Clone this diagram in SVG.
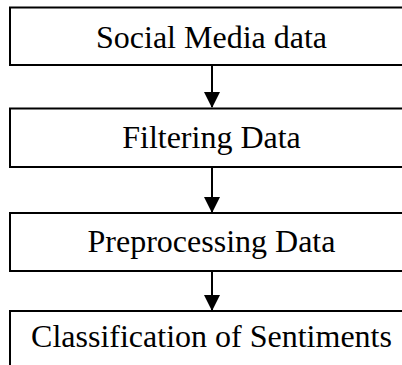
<svg xmlns="http://www.w3.org/2000/svg" width="402" height="365" viewBox="0 0 402 365">
<style>
.box{fill:#fff;stroke:#000;stroke-width:2}
.lbl{font-family:"Liberation Serif","Times New Roman",serif;font-size:32px;fill:#000;text-anchor:middle}
.conn{stroke:#000;stroke-width:2;fill:none}
</style>
<defs>
<marker id="ah" markerWidth="8" markerHeight="8" refX="7.5" refY="4" orient="auto" markerUnits="strokeWidth">
<path d="M0,0 L8,4 L0,8 Z" fill="#000"/>
</marker>
</defs>
<rect width="402" height="365" fill="#fff"/>
<g id="n1"><rect class="box" x="10" y="7.5" width="420" height="57.5"/><text class="lbl" x="211.5" y="48.3">Social Media data</text></g>
<g id="n2"><rect class="box" x="10" y="108.5" width="420" height="58.5"/><text class="lbl" x="211.5" y="148.3">Filtering Data</text></g>
<g id="n3"><rect class="box" x="10" y="213" width="420" height="58"/><text class="lbl" x="211.5" y="251.7">Preprocessing Data</text></g>
<g id="n4"><rect class="box" x="10" y="311" width="420" height="80"/><text class="lbl" x="211.5" y="347">Classification of Sentiments</text></g>
<g id="connectors">
<line class="conn" x1="212" y1="65" x2="212" y2="107" marker-end="url(#ah)"/>
<line class="conn" x1="212" y1="167" x2="212" y2="212" marker-end="url(#ah)"/>
<line class="conn" x1="212" y1="271" x2="212" y2="310" marker-end="url(#ah)"/>
</g>
</svg>
